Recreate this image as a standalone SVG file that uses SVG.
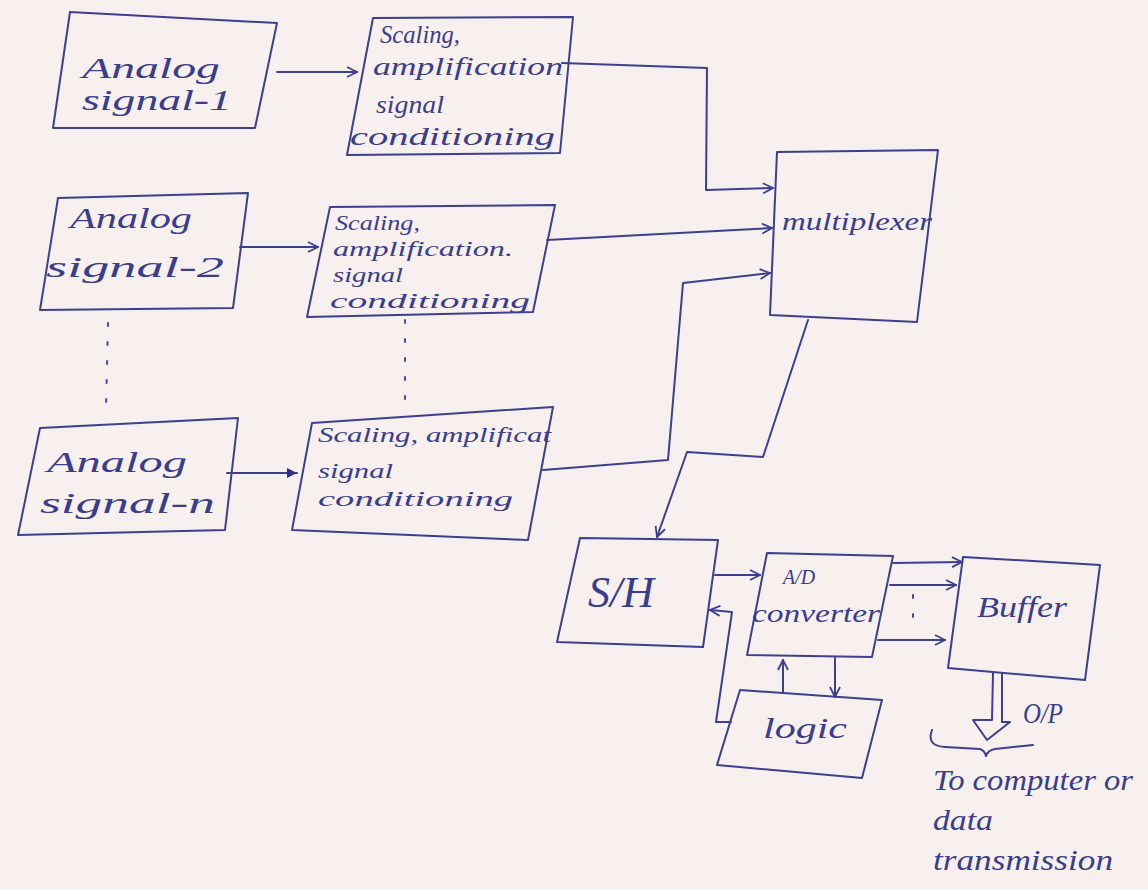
<svg xmlns="http://www.w3.org/2000/svg" width="1148" height="890" viewBox="0 0 1148 890">
<defs>
<marker id="open" viewBox="0 0 12 12" refX="11" refY="6" markerWidth="12" markerHeight="12" markerUnits="userSpaceOnUse" orient="auto">
<path d="M1 1 L11 6 L1 11" fill="none" stroke="#3d4090" stroke-width="1.8"/>
</marker>
<marker id="solid" viewBox="0 0 12 12" refX="11" refY="6" markerWidth="12" markerHeight="12" markerUnits="userSpaceOnUse" orient="auto">
<path d="M1 1 L11 6 L1 11 Z" fill="#2f3180"/>
</marker>
<style>
.box{fill:none;stroke:#3d4090;stroke-width:2;stroke-linejoin:round}
.ln{fill:none;stroke:#3d4090;stroke-width:2;stroke-linejoin:round;stroke-linecap:round}
.arr{marker-end:url(#open)}
.dot{fill:none;stroke:#4a4d96;stroke-width:2;stroke-dasharray:3 16;stroke-linecap:round}
.t{font-family:"Liberation Serif","DejaVu Serif",serif;font-style:italic;font-size:30px;fill:#3a3d8e}
.s{font-size:26px}
.xs{font-size:21px}
</style>
</defs>
<rect width="1148" height="890" fill="#f7f0ef"/>

<g id="analog1">
<polygon class="box" points="70,12 277,23 255,128 53,128"/>
<text class="t" x="82" y="78" textLength="138" lengthAdjust="spacingAndGlyphs">Analog</text>
<text class="t" x="82" y="110" textLength="150" lengthAdjust="spacingAndGlyphs">signal-1</text>
</g>
<g id="scaling1">
<polygon class="box" points="373,18 573,17 560,153 347,155"/>
<text class="t s" x="380" y="43" textLength="80" lengthAdjust="spacingAndGlyphs">Scaling,</text>
<text class="t s" x="373" y="75" textLength="190" lengthAdjust="spacingAndGlyphs">amplification</text>
<text class="t s" x="376" y="113" textLength="68" lengthAdjust="spacingAndGlyphs">signal</text>
<text class="t s" x="350" y="145" textLength="205" lengthAdjust="spacingAndGlyphs">conditioning</text>
</g>
<g id="analog2">
<polygon class="box" points="58,198 248,193 233,308 40,310"/>
<text class="t" x="70" y="228" textLength="122" lengthAdjust="spacingAndGlyphs">Analog</text>
<text class="t" x="46" y="277" textLength="178" lengthAdjust="spacingAndGlyphs">signal-2</text>
</g>
<g id="scaling2">
<polygon class="box" points="330,207 555,205 533,312 307,317"/>
<text class="t xs" x="335" y="230" textLength="85" lengthAdjust="spacingAndGlyphs">Scaling,</text>
<text class="t xs" x="333" y="256" textLength="180" lengthAdjust="spacingAndGlyphs">amplification.</text>
<text class="t xs" x="333" y="282" textLength="70" lengthAdjust="spacingAndGlyphs">signal</text>
<text class="t xs" x="330" y="308" textLength="200" lengthAdjust="spacingAndGlyphs">conditioning</text>
</g>
<g id="analogn">
<polygon class="box" points="40,428 238,418 225,530 18,535"/>
<text class="t" x="47" y="472" textLength="140" lengthAdjust="spacingAndGlyphs">Analog</text>
<text class="t" x="40" y="513" textLength="175" lengthAdjust="spacingAndGlyphs">signal-n</text>
</g>
<g id="scalingn">
<polygon class="box" points="312,423 553,407 528,540 292,530"/>
<text class="t xs" x="318" y="442" textLength="233" lengthAdjust="spacingAndGlyphs">Scaling, amplificat</text>
<text class="t xs" x="318" y="478" textLength="75" lengthAdjust="spacingAndGlyphs">signal</text>
<text class="t xs" x="318" y="506" textLength="195" lengthAdjust="spacingAndGlyphs">conditioning</text>
</g>
<g id="multiplexer">
<polygon class="box" points="777,152 938,150 917,322 770,315"/>
<text class="t s" x="782" y="230" textLength="150" lengthAdjust="spacingAndGlyphs">multiplexer</text>
</g>
<g id="sh">
<polygon class="box" points="580,538 718,540 703,647 557,642"/>
<text class="t" x="588" y="607" textLength="66" lengthAdjust="spacingAndGlyphs" style="font-size:44px">S/H</text>
</g>
<g id="adc">
<polygon class="box" points="767,553 893,556 872,657 747,655"/>
<text class="t" x="783" y="584" style="font-size:22px" textLength="32" lengthAdjust="spacingAndGlyphs">A/D</text>
<text class="t s" x="752" y="622" textLength="128" lengthAdjust="spacingAndGlyphs">converter</text>
</g>
<g id="logic">
<polygon class="box" points="740,690 882,700 862,778 717,765"/>
<text class="t" x="763" y="738" textLength="84" lengthAdjust="spacingAndGlyphs">logic</text>
</g>
<g id="buffer">
<polygon class="box" points="963,557 1100,565 1085,680 948,668"/>
<text class="t" x="977" y="617" textLength="90" lengthAdjust="spacingAndGlyphs">Buffer</text>
</g>
<g id="output">
<path class="ln" d="M993 673 L992 720 L973 720 L987 740 L1010 722 L1002 722 L1002 673"/>
<text class="t" x="1023" y="723" textLength="40" lengthAdjust="spacingAndGlyphs">O/P</text>
<path class="ln" d="M932 730 Q926 746 945 747 L980 749 Q985 751 986 756 Q988 750 995 749 L1033 745"/>
<text class="t" x="933" y="790" textLength="200" lengthAdjust="spacingAndGlyphs">To computer or</text>
<text class="t" x="933" y="830" textLength="60" lengthAdjust="spacingAndGlyphs">data</text>
<text class="t" x="933" y="870" textLength="180" lengthAdjust="spacingAndGlyphs">transmission</text>
</g>

<g id="connectors">
<path class="ln arr" d="M277 72 L357 72"/>
<path class="ln arr" d="M562 63 L707 68 L706 190 L773 188"/>
<path class="ln arr" d="M240 247 L318 247"/>
<path class="ln arr" d="M547 240 L772 228"/>
<path class="ln" d="M227 473 L297 473" marker-end="url(#solid)"/>
<path class="ln arr" d="M543 470 L668 460 L683 283 L770 273"/>
<path class="ln arr" d="M808 320 L763 457 L687 452 L657 537"/>
<path class="ln arr" d="M715 575 L760 575"/>
<path class="ln arr" d="M731 722 L716 722 L732 612 L710 610"/>
<path class="ln arr" d="M783 693 L783 660"/>
<path class="ln arr" d="M835 658 L835 697"/>
<path class="ln arr" d="M893 563 L962 562"/>
<path class="ln arr" d="M890 585 L956 585"/>
<path class="ln arr" d="M878 640 L945 640"/>
<path class="dot" d="M913 595 L913 630"/>
<path class="dot" d="M108 323 L106 408"/>
<path class="dot" d="M405 320 L405 412"/>
</g>
</svg>
